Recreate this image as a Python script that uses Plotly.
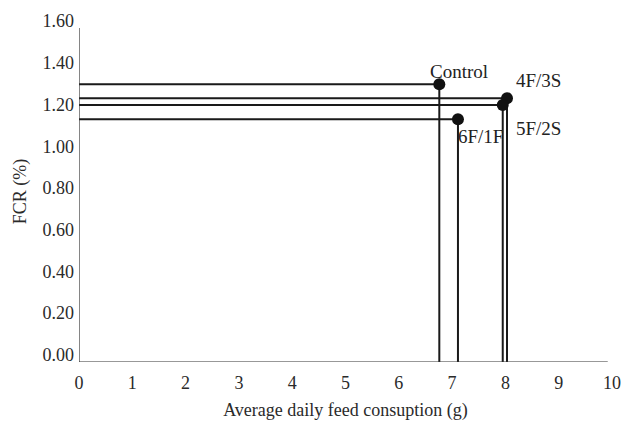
import plotly.graph_objects as go

groups = ["Control", "4F/3S", "5F/2S", "6F/1F"]
feed = [6.76, 8.03, 7.95, 7.11]        # Average daily feed consumption (g)
fcr = [1.297, 1.23, 1.197, 1.129]      # FCR (%)
x_ticks = list(range(0, 11))
y_ticks = [0.0, 0.2, 0.4, 0.6, 0.8, 1.0, 1.2, 1.4, 1.6]
y_tick_text = ["%.2f" % v for v in y_ticks]

label_shift = {"Control": (20, 13), "4F/3S": (31, 18), "5F/2S": (36, -23), "6F/1F": (23, -17)}

Y_MIN = -0.034
Y_AXIS_TOP = 1.566
X_MAX = 10
X_AXIS_END = 9.92

fig = go.Figure()

for g, x, y in zip(groups, feed, fcr):
    fig.add_trace(go.Scatter(
        x=[0, x, x], y=[y, y, Y_MIN], mode="lines",
        line=dict(color="#1a1a1a", width=2), showlegend=False, hoverinfo="skip"))

fig.add_trace(go.Scatter(
    x=feed, y=fcr, mode="markers", text=groups,
    marker=dict(color="#111111", size=12), showlegend=False))

for g, x, y in zip(groups, feed, fcr):
    dx, dy = label_shift[g]
    fig.add_annotation(x=x, y=y, text=g, showarrow=False, xshift=dx, yshift=dy,
                       font=dict(family="Liberation Serif", size=19, color="#222222"))

# axis lines
fig.add_shape(type="line", x0=0, x1=0, y0=Y_MIN, y1=Y_AXIS_TOP, xref="x", yref="y",
              line=dict(color="#333333", width=1.2))
fig.add_shape(type="line", x0=0, x1=X_AXIS_END, y0=Y_MIN, y1=Y_MIN, xref="x", yref="y",
              line=dict(color="#333333", width=1.2))

fig.update_layout(
    width=623, height=423,
    margin=dict(l=79, r=11, t=21, b=61),
    paper_bgcolor="white", plot_bgcolor="white",
    font=dict(family="Liberation Serif", size=18, color="#2a2a2a"),
    xaxis=dict(range=[0, X_MAX], tickvals=x_ticks, ticktext=[str(v) for v in x_ticks],
               showgrid=False, zeroline=False, showline=False, ticks="",
               automargin=False, ticklabelstandoff=8,
               title=dict(text="Average daily feed consuption (g)", standoff=11,
                          font=dict(size=18))),
    yaxis=dict(range=[Y_MIN, 1.6], tickvals=y_ticks, ticktext=y_tick_text,
               showgrid=False, zeroline=False, showline=False, ticks="",
               automargin=False, ticklabelstandoff=4,
               title=dict(text="FCR (%)", standoff=11, font=dict(size=18))),
)

fig.write_html("out.html", config={"displayModeBar": False},
               post_script="document.body.style.margin='0';document.body.style.overflow='hidden';")
